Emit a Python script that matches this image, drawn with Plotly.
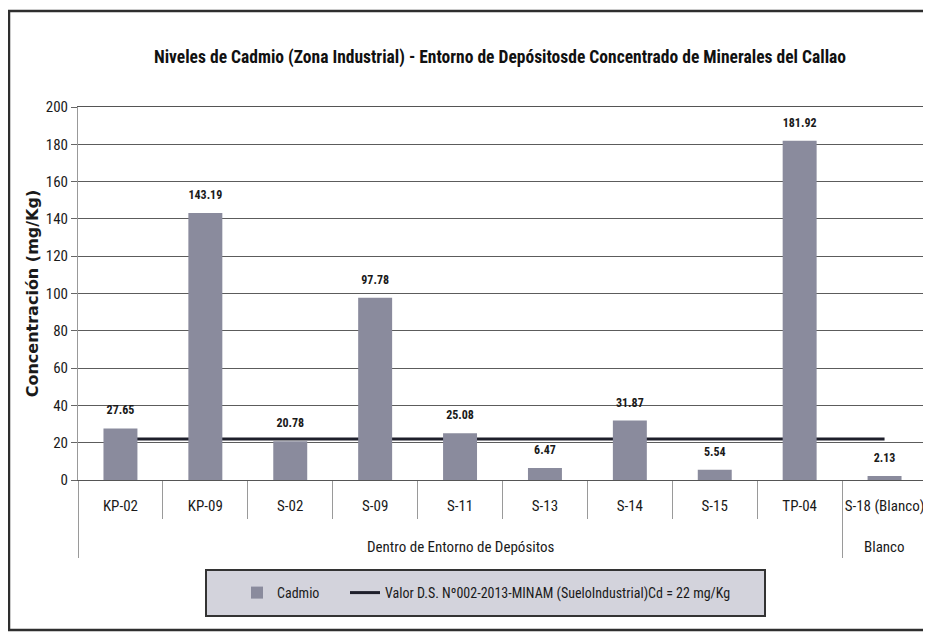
import plotly.graph_objects as go

# ---------------- data ----------------
CATEGORIES = ["KP-02", "KP-09", "S-02", "S-09", "S-11", "S-13", "S-14", "S-15", "TP-04", "S-18 (Blanco)"]
GROUPS = ["Dentro de Entorno de Depósitos"] * 9 + ["Blanco"]
CADMIO = [27.65, 143.19, 20.78, 97.78, 25.08, 6.47, 31.87, 5.54, 181.92, 2.13]
LIMITE = [22, 22, 22, 22, 22, 22, 22, 22, 22, 22]
Y_TICKS = [0, 20, 40, 60, 80, 100, 120, 140, 160, 180, 200]

TITLE = "Niveles de Cadmio (Zona Industrial) - Entorno de Depósitosde Concentrado de Minerales del Callao"
Y_TITLE = "Concentración (mg/Kg)"
BAR_NAME = "Cadmio"
LINE_NAME = "Valor D.S. Nº002-2013-MINAM (SueloIndustrial)Cd = 22 mg/Kg"

# ---------------- geometry (window pixels; page body has an 8px margin) ----------------
OFF = 8
W, H = 931 - OFF, 633 - OFF
PLOT_L, PLOT_R, PLOT_T, PLOT_B = 78, 927, 107, 480
L, R, T, B = PLOT_L - OFF, W - (PLOT_R - OFF), PLOT_T - OFF, H - (PLOT_B - OFF)
PW, PH = W - L - R, H - T - B


def px(xw):
    return (xw - OFF - L) / PW


def py(yw):
    return (H - B - (yw - OFF)) / PH


NARROW = "Liberation Sans Narrow, Arial Narrow, Roboto Condensed, Liberation Sans, sans-serif"
BAR_COLOR = "#8a8b9d"
LINE_COLOR = "#1e1f2b"
DIV_COLOR = "#9a9a9a"

n = len(CATEGORIES)
xrange_ = [-0.5, n - 0.5]
cat_bounds = [i - 0.5 for i in range(n + 1)]
group_names = []
for g in GROUPS:
    if g not in group_names:
        group_names.append(g)
group_bounds = [-0.5]
group_centers = []
for g in group_names:
    idx = [i for i, gg in enumerate(GROUPS) if gg == g]
    group_centers.append((min(idx) + max(idx)) / 2)
    group_bounds.append(max(idx) + 0.5)

fig = go.Figure()

# limit line on the base axes (drawn underneath the bars)
fig.add_trace(go.Scatter(
    x=CATEGORIES, y=LIMITE, mode="lines", name=LINE_NAME,
    line=dict(color=LINE_COLOR, width=3), xaxis="x", yaxis="y",
    legend="legend2", hoverinfo="skip",
))

# bars on the overlaying axes (drawn on top of the line)
fig.add_trace(go.Bar(
    x=CATEGORIES, y=CADMIO, name=BAR_NAME,
    marker=dict(color=BAR_COLOR, line=dict(width=0)),
    xaxis="x2", yaxis="y2", legend="legend",
))

# value labels
fig.add_trace(go.Scatter(
    x=CATEGORIES, y=CADMIO, mode="markers+text",
    text=[f"{v:.2f}" for v in CADMIO], textposition="top center",
    marker=dict(size=16, color="rgba(0,0,0,0)"),
    textfont=dict(family=NARROW, size=12, color="#1a1a1a", weight="bold"),
    showlegend=False, xaxis="x2", yaxis="y2", cliponaxis=False, hoverinfo="skip",
))

# invisible helpers so the divider axes are drawn
for ax in ("x3", "x4"):
    fig.add_trace(go.Scatter(
        x=xrange_, y=[0, 0], mode="markers", marker=dict(opacity=0),
        showlegend=False, xaxis=ax, yaxis="y", hoverinfo="skip",
    ))

annotations = [
    dict(x=c, y=py(547), xref="x", yref="paper", text=g, showarrow=False,
         xanchor="center", yanchor="middle",
         font=dict(family=NARROW, size=15, color="#1a1a1a"))
    for g, c in zip(group_names, group_centers)
]

legend_common = dict(
    orientation="h", xanchor="left", y=py(593), yanchor="middle",
    bgcolor="rgba(0,0,0,0)", borderwidth=0,
    font=dict(family=NARROW, size=14, color="#1a1a1a"),
)

fig.update_layout(
    width=W, height=H,
    margin=dict(l=L, r=R, t=T, b=B, autoexpand=False),
    paper_bgcolor="white", plot_bgcolor="white",
    bargap=0.6,
    title=dict(text=TITLE, x=(500 - OFF) / W, xanchor="center", xref="container",
               y=1 - (57 - OFF) / H, yanchor="middle", yref="container",
               font=dict(family=NARROW, size=17.5, color="#111", weight="bold")),
    xaxis=dict(
        type="category", range=xrange_, showline=True, linecolor="#555", linewidth=1, mirror=True,
        ticks="", ticklen=0, ticklabelstandoff=12, showgrid=False, automargin=False,
        tickfont=dict(family=NARROW, size=15, color="#1a1a1a"),
    ),
    xaxis2=dict(type="category", range=xrange_, overlaying="x", visible=False),
    xaxis3=dict(
        overlaying="x", anchor="y", range=xrange_, tickvals=cat_bounds,
        ticks="outside", ticklen=38, tickcolor=DIV_COLOR, tickwidth=1,
        showticklabels=False, showgrid=False, zeroline=False, showline=False, automargin=False,
    ),
    xaxis4=dict(
        overlaying="x", anchor="y", range=xrange_, tickvals=group_bounds,
        ticks="outside", ticklen=77, tickcolor=DIV_COLOR, tickwidth=1,
        showticklabels=False, showgrid=False, zeroline=False, showline=False, automargin=False,
    ),
    yaxis=dict(
        range=[0, 200], tickvals=Y_TICKS, ticks="outside", ticklen=6, tickcolor="#666",
        showgrid=True, gridcolor="#5c5c5c", gridwidth=1, zeroline=False,
        showline=True, linecolor="#999", linewidth=1, mirror=True, automargin=False,
        tickfont=dict(family=NARROW, size=15, color="#1a1a1a"),
        title=dict(text=Y_TITLE, standoff=3,
                   font=dict(family="DejaVu Sans, Verdana, sans-serif", size=16,
                             color="#1a1a1a", weight="bold")),
    ),
    yaxis2=dict(overlaying="y", range=[0, 200], visible=False),
    showlegend=True,
    legend=dict(x=px(237), **legend_common),
    legend2=dict(x=px(345), **legend_common),
    annotations=annotations,
    shapes=[
        # outer chart border
        dict(type="rect", xref="paper", yref="paper",
             x0=px(9), x1=px(945), y0=py(630), y1=py(11),
             line=dict(color="#2e2e2e", width=2.5), fillcolor="rgba(0,0,0,0)", layer="above"),
        # legend box
        dict(type="rect", xref="paper", yref="paper",
             x0=px(206), x1=px(765), y0=py(616), y1=py(570),
             line=dict(color="#333", width=2), fillcolor="#d3d3dc", layer="below"),
    ],
)

fig.write_html("out.html")
